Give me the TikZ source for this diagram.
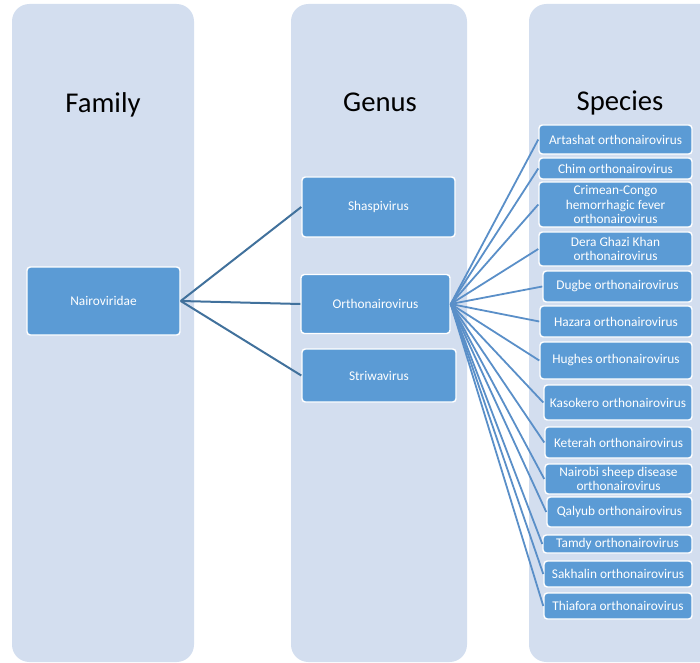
\documentclass[tikz,border=0pt]{standalone}
\usepackage{fontspec}
\setmainfont{Carlito}
\definecolor{colbg}{HTML}{D3DEEF}
\definecolor{boxfill}{HTML}{5B9BD5}
\definecolor{famline}{HTML}{41719C}
\definecolor{spline}{HTML}{5A8FC8}
\begin{document}
\begin{tikzpicture}[x=0.75pt,y=-0.75pt,
  column/.style={fill=colbg, draw=none, rounded corners=13pt},
  header/.style={font=\fontsize{21.5}{24}\selectfont, text=black, anchor=base},
  box/.style={fill=boxfill, draw=white, line width=1.1pt, rounded corners=2.5pt,
    text=white, font=\fontsize{10}{10.9}\selectfont, align=center, inner sep=0pt},
  famedge/.style={draw=famline, line width=1.5pt},
  spedge/.style={draw=spline, line width=1.35pt}]
\useasboundingbox (0,0) rectangle (700,663);
\clip (0,0) rectangle (700,663);
% columns
\path[column] (12,4) rectangle (194,662);
\path[column] (291,4) rectangle (467,662);
\path[column] (529,4) rectangle (760,662);
% headers
\node[header] (hfam) at (103,113) {Family};
\node[header] (hgen) at (380,112) {Genus};
\node[header] (hspe) at (620,111) {Species};
% family / genus
\node[box, minimum width=114.75pt, minimum height=51pt] (nair) at (103.5,301) {Nairoviridae};
\node[box, minimum width=114.75pt, minimum height=45pt] (shas) at (378.5,207) {Shaspivirus};
\node[box, minimum width=111.75pt, minimum height=44.25pt] (orth) at (375.5,304) {Orthonairovirus};
\node[box, minimum width=115.5pt, minimum height=39.75pt] (stri) at (379,375.5) {Striwavirus};
% species
\node[box, minimum width=114.75pt, minimum height=21.75pt] (s1) at (615.5,139.5) {Artashat orthonairovirus};
\node[box, minimum width=114.75pt, minimum height=15.75pt] (s2) at (615.5,168.5) {Chim orthonairovirus};
\node[box, minimum width=114.75pt, minimum height=33.75pt] (s3) at (615.5,204.5) {Crimean-Congo\\hemorrhagic fever\\orthonairovirus};
\node[box, minimum width=114.75pt, minimum height=25.5pt] (s4) at (615.5,249) {Dera Ghazi Khan\\orthonairovirus};
\node[box, minimum width=111.75pt, minimum height=23.25pt] (s5) at (617.5,286.5) {Dugbe orthonairovirus};
\node[box, minimum width=114pt, minimum height=23.25pt] (s6) at (616,321.5) {Hazara orthonairovirus};
\node[box, minimum width=114pt, minimum height=27.75pt] (s7) at (616,360.5) {Hughes orthonairovirus};
\node[box, minimum width=111pt, minimum height=26.25pt] (s8) at (618,402.5) {Kasokero orthonairovirus};
\node[box, minimum width=110.25pt, minimum height=23.25pt] (s9) at (618.5,442.5) {Keterah orthonairovirus};
\node[box, minimum width=110.25pt, minimum height=22.5pt] (s10) at (618.5,479) {Nairobi sheep disease\\orthonairovirus};
\node[box, minimum width=108.75pt, minimum height=22.5pt] (s11) at (619.5,512) {Qalyub orthonairovirus};
\node[box, minimum width=111.75pt, minimum height=13.5pt] (s12) at (617.5,544) {Tamdy orthonairovirus};
\node[box, minimum width=111pt, minimum height=19.5pt] (s13) at (618,574) {Sakhalin orthonairovirus};
\node[box, minimum width=111pt, minimum height=19.5pt] (s14) at (618,606) {Thiafora orthonairovirus};
% connectors
\foreach \g in {shas,orth,stri} \path[famedge] (nair.east) -- (\g.west);
\foreach \s in {s1,s2,s3,s4,s5,s6,s7,s8,s9,s10,s11,s12,s13,s14} \path[spedge] (orth.east) -- (\s.west);
\end{tikzpicture}
\end{document}
